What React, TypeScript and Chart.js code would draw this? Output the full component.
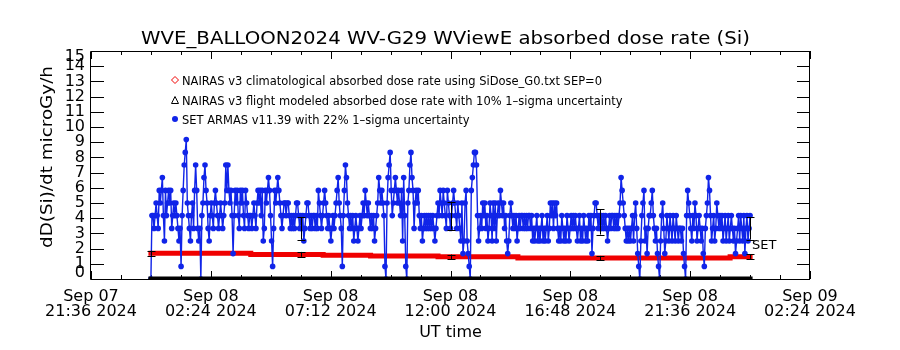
import React, { useEffect, useRef } from 'react';
import { Chart, registerables } from 'chart.js';

Chart.register(...registerables);

// ---------- texts ----------
const TITLE = 'WVE_BALLOON2024 WV-G29 WViewE absorbed dose rate (Si)';
const Y_TITLE = 'dD(Si)/dt microGy/h';
const X_TITLE = 'UT time';
const LEGEND_LABELS = [
  'NAIRAS v3 climatological absorbed dose rate using SiDose_G0.txt SEP=0',
  'NAIRAS v3 flight modeled absorbed dose rate with 10% 1\u2013sigma uncertainty',
  'SET ARMAS v11.39 with 22% 1\u2013sigma uncertainty',
];
const SERIES_TAG = 'SET';

// ---------- axes (x in hours from Sep 08 00:00 UT) ----------
const X_MIN = -2.4;
const X_MAX = 26.4;
const X_TICKS = [-2.4, 2.4, 7.2, 12, 16.8, 21.6, 26.4];
const X_TICK_DATES = ['Sep 07', 'Sep 08', 'Sep 08', 'Sep 08', 'Sep 08', 'Sep 08', 'Sep 09'];
const X_TICK_TIMES = ['21:36 2024', '02:24 2024', '07:12 2024', '12:00 2024', '16:48 2024', '21:36 2024', '02:24 2024'];
const X_MINOR_STEP = 1.2;
const Y_MIN = 0;
const Y_MAX = 15;
const Y_TICKS = [0, 1, 2, 3, 4, 5, 6, 7, 8, 9, 10, 11, 12, 13, 14, 15];

// ---------- SET ARMAS measured dose rate (2.5-minute samples from Sep 08 00:00, one row per hour) ----------
const SET_START_HOUR = 0;
const SET_STEP_MIN = 2.5;
const SET_DOSE = [
  0, 4.17, 4.17, 3.33, 4.17, 5.0, 4.17, 3.33, 5.83, 5.0, 5.83, 6.67, 4.17, 2.5, 5.83, 4.17, 5.0, 5.83, 5.0, 5.83, 3.33, 4.17, 5.0, 4.17,
  5.0, 4.17, 3.33, 2.5, 3.33, 0.83, 4.17, 5.83, 7.5, 8.33, 9.17, 5.0, 4.17, 3.33, 2.5, 4.17, 5.0, 3.33, 5.83, 7.5, 5.83, 3.33, 2.5, 3.33,
  0, 4.17, 5.0, 6.67, 7.5, 5.83, 5.0, 3.33, 2.5, 4.17, 5.0, 4.17, 3.33, 5.0, 5.83, 5.0, 4.17, 3.33, 4.17, 5.0, 4.17, 3.33, 4.17, 5.0,
  7.5, 5.83, 7.5, 5.83, 5.0, 5.83, 4.17, 1.67, 4.17, 5.83, 5.0, 5.83, 4.17, 3.33, 5.83, 5.0, 5.83, 4.17, 3.33, 5.83, 5.0, 4.17, 3.33, 4.17,
  4.17, 3.33, 4.17, 5.0, 4.17, 3.33, 5.0, 5.83, 5.0, 5.83, 4.17, 5.83, 2.5, 3.33, 5.83, 5.0, 5.83, 6.67, 5.83, 4.17, 2.5, 0.83, 3.33, 5.83,
  5.0, 5.83, 6.67, 5.83, 5.0, 4.17, 3.33, 4.17, 5.0, 5.0, 4.17, 5.0, 5.0, 4.17, 3.33, 4.17, 3.33, 4.17, 3.33, 4.17, 5.0, 5.0, 4.17, 3.33,
  4.17, 3.33, 4.17, 2.5, 3.33, 4.17, 5.0, 5.0, 4.17, 3.33, 4.17, 3.33, 4.17, 4.17, 3.33, 4.17, 3.33, 5.83, 5.0, 4.17, 3.33, 4.17, 5.0, 5.83,
  5.0, 4.17, 3.33, 4.17, 3.33, 2.5, 3.33, 4.17, 3.33, 4.17, 5.0, 5.83, 6.67, 5.0, 4.17, 3.33, 0.83, 4.17, 5.83, 7.5, 6.67, 5.0, 4.17, 3.33,
  4.17, 3.33, 4.17, 2.5, 3.33, 4.17, 3.33, 2.5, 3.33, 4.17, 3.33, 4.17, 5.0, 4.17, 5.83, 5.0, 4.17, 5.0, 4.17, 3.33, 4.17, 3.33, 4.17, 2.5,
  3.33, 4.17, 5.0, 6.67, 5.83, 5.0, 5.83, 5.0, 4.17, 0.83, 0, 5.0, 6.67, 7.5, 8.33, 5.83, 4.17, 5.0, 5.83, 6.67, 5.83, 5.0, 5.83, 5.0,
  4.17, 5.83, 2.5, 6.67, 4.17, 0.83, 0, 5.0, 5.83, 7.5, 8.33, 6.67, 5.83, 3.33, 5.0, 5.83, 5.0, 5.83, 4.17, 3.33, 4.17, 2.5, 3.33, 4.17,
  3.33, 4.17, 3.33, 4.17, 3.33, 4.17, 3.33, 4.17, 3.33, 2.5, 3.33, 4.17, 5.0, 4.17, 5.83, 5.0, 4.17, 5.83, 5.0, 4.17, 3.33, 5.83, 5.0, 4.17,
  3.33, 4.17, 5.0, 5.83, 5.0, 4.17, 3.33, 5.0, 4.17, 3.33, 2.5, 5.0, 1.67, 2.5, 5.0, 5.83, 2.5, 1.67, 0.83, 0, 5.83, 6.67, 7.5, 8.33,
  8.33, 7.5, 4.17, 2.5, 3.33, 4.17, 3.33, 5.0, 4.17, 5.0, 3.33, 4.17, 2.5, 3.33, 5.0, 4.17, 2.5, 5.0, 3.33, 5.0, 2.5, 4.17, 5.0, 4.17,
  5.83, 5.0, 4.17, 5.0, 3.33, 4.17, 2.5, 1.67, 2.5, 4.17, 5.0, 4.17, 3.33, 4.17, 3.33, 4.17, 2.5, 3.33, 4.17, 3.33, 4.17, 4.17, 3.33, 4.17,
  3.33, 4.17, 3.33, 4.17, 4.17, 3.33, 4.17, 2.5, 3.33, 2.5, 3.33, 4.17, 2.5, 3.33, 2.5, 3.33, 4.17, 2.5, 3.33, 2.5, 3.33, 4.17, 2.5, 3.33,
  5.0, 4.17, 5.0, 3.33, 5.0, 4.17, 5.0, 3.33, 2.5, 3.33, 2.5, 4.17, 3.33, 2.5, 3.33, 2.5, 4.17, 3.33, 2.5, 3.33, 4.17, 3.33, 4.17, 3.33,
  4.17, 3.33, 2.5, 3.33, 4.17, 2.5, 3.33, 2.5, 4.17, 3.33, 2.5, 3.33, 2.5, 4.17, 3.33, 4.17, 1.67, 3.33, 4.17, 5.0, 5.0, 4.17, 3.33, 4.17,
  3.33, 4.17, 3.33, 4.17, 3.33, 4.17, 3.33, 2.5, 3.33, 4.17, 3.33, 4.17, 4.17, 3.33, 4.17, 3.33, 4.17, 3.33, 4.17, 5.0, 6.67, 5.83, 5.0, 4.17,
  3.33, 2.5, 3.33, 2.5, 3.33, 2.5, 3.33, 4.17, 2.5, 4.17, 5.0, 3.33, 1.67, 0.83, 0, 2.5, 4.17, 5.0, 5.83, 2.5, 3.33, 1.67, 3.33, 4.17,
  4.17, 5.0, 5.83, 4.17, 3.33, 2.5, 3.33, 1.67, 0.83, 0, 2.5, 4.17, 5.0, 3.33, 1.67, 2.5, 4.17, 3.33, 2.5, 4.17, 3.33, 2.5, 4.17, 3.33,
  2.5, 4.17, 3.33, 2.5, 3.33, 3.33, 2.5, 3.33, 1.67, 0.83, 0, 4.17, 5.83, 5.0, 4.17, 3.33, 2.5, 4.17, 3.33, 5.0, 4.17, 2.5, 3.33, 4.17,
  3.33, 2.5, 3.33, 1.67, 0.83, 3.33, 4.17, 5.0, 6.67, 5.83, 4.17, 2.5, 3.33, 4.17, 2.5, 3.33, 5.0, 4.17, 3.33, 4.17, 3.33, 4.17, 2.5, 3.33,
  4.17, 2.5, 3.33, 4.17, 2.5, 3.33, 4.17, 3.33, 2.5, 3.33, 1.67, 2.5, 3.33, 4.17, 2.5, 4.17, 3.33, 2.5, 4.17, 1.67, 3.33, 4.17, 2.5, 3.33,
  4.17,
];

// ---------- NAIRAS climatological (step values) ----------
const CLIM_HOURS = [-0.1, 4.0, 6.9, 8.8, 11.5, 14.7, 23.2, 24.1];
const CLIM_DOSE = [1.69, 1.62, 1.56, 1.51, 1.46, 1.38, 1.47, 1.47];

// ---------- NAIRAS flight modeled ----------
const FLIGHT_HOURS = [-0.1, 24.1];
const FLIGHT_DOSE = [0.07, 0.07];

// ---------- error bars ----------
const ERR_HOURS = [0, 6, 12, 18, 24];
const ERR_SET = [null, 3.33, 4.17, 3.75, 3.33];
const ERR_SET_FRAC = 0.22;
const ERR_CLIM = [1.69, 1.62, 1.46, 1.38, 1.47];
const ERR_CLIM_FRAC = 0.1;

// ---------- styles ----------
const BLUE = 'rgb(16, 36, 232)';
const RED = 'rgb(240, 0, 0)';
const FONT = '"DejaVu Sans", "Liberation Sans", sans-serif';

function scaledText(ctx: CanvasRenderingContext2D, text: string, x: number, y: number, sx: number, align: CanvasTextAlign) {
  ctx.save();
  ctx.translate(x, y);
  ctx.scale(sx, 1);
  ctx.textAlign = align;
  ctx.fillText(text, 0, 0);
  ctx.restore();
}

const idlPlugin = {
  id: 'idlFrame',
  beforeDatasetsDraw(chart: any) {
    const { ctx, chartArea } = chart;
    const { left, right, top, bottom } = chartArea;
    const xs = chart.scales.x;
    const ys = chart.scales.y;
    ctx.save();
    ctx.strokeStyle = '#000';
    ctx.lineWidth = 1;
    ctx.beginPath();
    ctx.rect(Math.round(left) - 0.5, Math.round(top) + 0.5, Math.round(right - left), Math.round(bottom - top));
    ctx.stroke();
    ctx.beginPath();
    for (const v of Y_TICKS) {
      const y = Math.round(ys.getPixelForValue(v)) + 0.5;
      ctx.moveTo(left, y);
      ctx.lineTo(left + 13, y);
      ctx.moveTo(right, y);
      ctx.lineTo(right - 13, y);
    }
    for (let t = X_MIN; t <= X_MAX + 1e-6; t += X_MINOR_STEP) {
      const isMajor = X_TICKS.some((m) => Math.abs(m - t) < 1e-6);
      const len = isMajor ? 8 : 4;
      const x = Math.round(xs.getPixelForValue(t)) + 0.5;
      ctx.moveTo(x, bottom);
      ctx.lineTo(x, bottom - len);
      ctx.moveTo(x, top);
      ctx.lineTo(x, top + len);
    }
    ctx.stroke();
    ctx.restore();
  },
  afterDatasetsDraw(chart: any) {
    const { ctx, chartArea } = chart;
    const { left, right, top, bottom } = chartArea;
    const xs = chart.scales.x;
    const ys = chart.scales.y;
    ctx.save();
    ctx.strokeStyle = '#000';
    ctx.lineWidth = 1;
    ctx.beginPath();
    const bar = (h: number, v: number, f: number) => {
      const x = Math.round(xs.getPixelForValue(h)) + 0.5;
      const y1 = ys.getPixelForValue(v * (1 + f));
      const y2 = ys.getPixelForValue(v * (1 - f));
      ctx.moveTo(x, y1);
      ctx.lineTo(x, y2);
      ctx.moveTo(x - 4, Math.round(y1) + 0.5);
      ctx.lineTo(x + 4, Math.round(y1) + 0.5);
      ctx.moveTo(x - 4, Math.round(y2) + 0.5);
      ctx.lineTo(x + 4, Math.round(y2) + 0.5);
    };
    ERR_HOURS.forEach((h, i) => {
      const s = ERR_SET[i];
      if (s != null) bar(h, s, ERR_SET_FRAC);
      bar(h, ERR_CLIM[i], ERR_CLIM_FRAC);
    });
    ctx.stroke();

    ctx.fillStyle = '#000';
    ctx.font = `16px ${FONT}`;
    ctx.textAlign = 'right';
    ctx.textBaseline = 'middle';
    for (const v of Y_TICKS) {
      let y = ys.getPixelForValue(v);
      y = Math.min(Math.max(y, top + 6), bottom - 6);
      ctx.fillText(String(v), left - 6, y);
    }
    ctx.textAlign = 'center';
    ctx.textBaseline = 'alphabetic';
    X_TICKS.forEach((t, i) => {
      const x = xs.getPixelForValue(t);
      ctx.fillText(X_TICK_DATES[i], x, bottom + 22);
      ctx.fillText(X_TICK_TIMES[i], x, bottom + 37);
    });
    ctx.fillText(X_TITLE, (left + right) / 2, bottom + 58);
    ctx.save();
    ctx.translate(52, 157);
    ctx.rotate(-Math.PI / 2);
    const yw = ctx.measureText(Y_TITLE).width;
    scaledText(ctx, Y_TITLE, 0, 0, 182 / yw, 'center');
    ctx.restore();
    ctx.font = `18px ${FONT}`;
    const tw = ctx.measureText(TITLE).width;
    scaledText(ctx, TITLE, 445.5, 43.5, 609 / tw, 'center');
    ctx.font = `13px ${FONT}`;
    const lw = ctx.measureText(LEGEND_LABELS[0]).width;
    const lsx = 420 / lw;
    const legY = [85, 105, 124];
    LEGEND_LABELS.forEach((txt, i) => scaledText(ctx, txt, 182, legY[i], lsx, 'left'));
    ctx.lineWidth = 1;
    ctx.strokeStyle = RED;
    ctx.beginPath();
    ctx.moveTo(175, 76.5);
    ctx.lineTo(178.5, 80);
    ctx.lineTo(175, 83.5);
    ctx.lineTo(171.5, 80);
    ctx.closePath();
    ctx.stroke();
    ctx.strokeStyle = '#000';
    ctx.beginPath();
    ctx.moveTo(175, 96.5);
    ctx.lineTo(178.5, 103.5);
    ctx.lineTo(171.5, 103.5);
    ctx.closePath();
    ctx.stroke();
    ctx.fillStyle = BLUE;
    ctx.beginPath();
    ctx.arc(175, 119, 3, 0, Math.PI * 2);
    ctx.fill();
    ctx.fillStyle = '#000';
    ctx.font = `13px ${FONT}`;
    ctx.textAlign = 'left';
    ctx.fillText(SERIES_TAG, xs.getPixelForValue(ERR_HOURS[ERR_HOURS.length - 1]) + 2, 249);
    ctx.restore();
  },
};

export default function App() {
  const ref = useRef<HTMLCanvasElement>(null);
  useEffect(() => {
    const canvas = ref.current!;
    const setPts = SET_DOSE.map((v, i) => ({ x: SET_START_HOUR + (i * SET_STEP_MIN) / 60, y: v }));
    const climPts = CLIM_HOURS.map((h, i) => ({ x: h, y: CLIM_DOSE[i] }));
    const flightPts = FLIGHT_HOURS.map((h, i) => ({ x: h, y: FLIGHT_DOSE[i] }));
    const chart = new Chart(canvas, {
      type: 'line',
      data: {
        datasets: [
          { label: LEGEND_LABELS[1], data: flightPts, borderColor: '#000', borderWidth: 3, pointRadius: 0, order: 0, clip: false } as any,
          {
            label: LEGEND_LABELS[2], data: setPts, borderColor: BLUE, backgroundColor: BLUE, borderWidth: 1.4,
            pointRadius: 2.8, pointBorderWidth: 0, pointBackgroundColor: BLUE, order: 1,
          } as any,
          { label: LEGEND_LABELS[0], data: climPts, borderColor: RED, borderWidth: 5, pointRadius: 0, stepped: true, order: 2 } as any,
        ],
      },
      options: {
        responsive: false,
        animation: false,
        devicePixelRatio: 1,
        events: [],
        layout: { padding: { left: 91, right: 90, top: 51, bottom: 71 } },
        scales: {
          x: { type: 'linear', min: X_MIN, max: X_MAX, display: false },
          y: { type: 'linear', min: Y_MIN, max: Y_MAX, display: false },
        },
        plugins: { legend: { display: false }, tooltip: { enabled: false }, title: { display: false } },
      },
      plugins: [idlPlugin],
    });
    return () => chart.destroy();
  }, []);
  return (
    <div style={{ position: 'absolute', left: 0, top: 0, width: 900, height: 350, background: '#fff' }}>
      <canvas ref={ref} width={900} height={350} style={{ display: 'block' }} />
    </div>
  );
}
